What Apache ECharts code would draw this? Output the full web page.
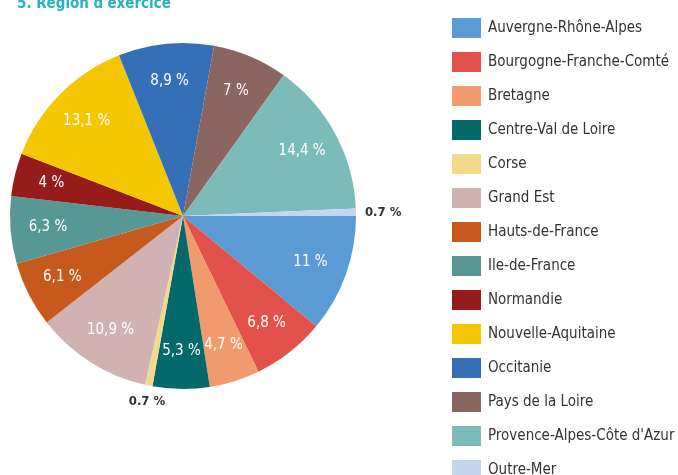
<!DOCTYPE html>
<html>
<head>
<meta charset="utf-8">
<script src="https://cdn.jsdelivr.net/npm/echarts@6/dist/echarts.min.js"></script>
<style>
  html, body { margin: 0; padding: 0; background: #fff; }
  #chart { width: 678px; height: 475px; }
</style>
</head>
<body>
<div id="chart"></div>
<script>
// --- Data ---
const regions = [
    'Auvergne-Rhône-Alpes', 'Bourgogne-Franche-Comté', 'Bretagne', 'Centre-Val de Loire',
    'Corse', 'Grand Est', 'Hauts-de-France', 'Ile-de-France', 'Normandie',
    'Nouvelle-Aquitaine', 'Occitanie', 'Pays de la Loire',
    'Provence-Alpes-Côte d\'Azur', 'Outre-Mer'
];
const shares = [11, 6.8, 4.7, 5.3, 0.7, 10.9, 6.1, 6.3, 4, 13.1, 8.9, 7, 14.4, 0.7];
const shareLabels = ['11 %', '6,8 %', '4,7 %', '5,3 %', '0.7 %', '10,9 %', '6,1 %', '6,3 %',
    '4 %', '13,1 %', '8,9 %', '7 %', '14,4 %', '0.7 %'];
const palette = ['#5b9bd5', '#e3524a', '#f09a6d', '#03696b', '#f4d98b', '#d1b2b2', '#c6591b',
    '#579897', '#961b1b', '#f4c700', '#346fb7', '#8b6661', '#7bbbba', '#c4d6ee'];

const FONT = '"DejaVu Sans Condensed", "Roboto", sans-serif';
const CENTER = [183, 216];
const R = 173;

const chart = echarts.init(document.getElementById('chart'), null, { renderer: 'canvas' });

const pieData = regions.map((name, i) => ({
    name, value: shares[i], itemStyle: { color: palette[i] },
}));

// transparent ring that only carries the labels, so they sit ~0.77 R out
const labelData = regions.map((name, i) => {
    const small = shares[i] < 1;
    const lbl = { position: 'outside', color: '#333', fontSize: 13, fontWeight: 'bold' };
    if (name === 'Corse') lbl.offset = [24, 14];
    return {
        name, value: shares[i],
        itemStyle: { color: 'rgba(0,0,0,0)' },
        label: small ? lbl : {},
        labelLine: small ? { show: false, length: 2, length2: 2 } : { show: false },
    };
});

chart.setOption({
    animation: false,
    title: {
        text: '5. Région d\'exercice',
        left: 12, top: -8,
        textStyle: { color: '#2ab2be', fontSize: 15, fontWeight: 'bold', fontFamily: FONT },
    },
    legend: {
        orient: 'vertical', left: 447, top: 13, height: 700,
        itemWidth: 29, itemHeight: 20, itemGap: 14,
        icon: 'rect', selectedMode: false,
        data: regions.map((name, i) => ({ name, itemStyle: { color: palette[i] } })),
        textStyle: { color: '#333', fontSize: 15, fontFamily: FONT, padding: [6, 0, 0, 2] },
    },
    series: [
        {
            type: 'pie', center: CENTER, radius: [0, R], startAngle: 0, clockwise: true,
            label: { show: false }, labelLine: { show: false },
            itemStyle: { borderWidth: 0 }, emphasis: { disabled: true },
            data: pieData,
        },
        {
            type: 'pie', center: CENTER, radius: [92, R], startAngle: 0, clockwise: true,
            silent: true, emphasis: { disabled: true },
            label: {
                show: true, position: 'inside', color: '#fff', fontSize: 15,
                fontFamily: FONT,
                formatter: p => shareLabels[p.dataIndex],
            },
            data: labelData,
        },
    ],
});
</script>
</body>
</html>
